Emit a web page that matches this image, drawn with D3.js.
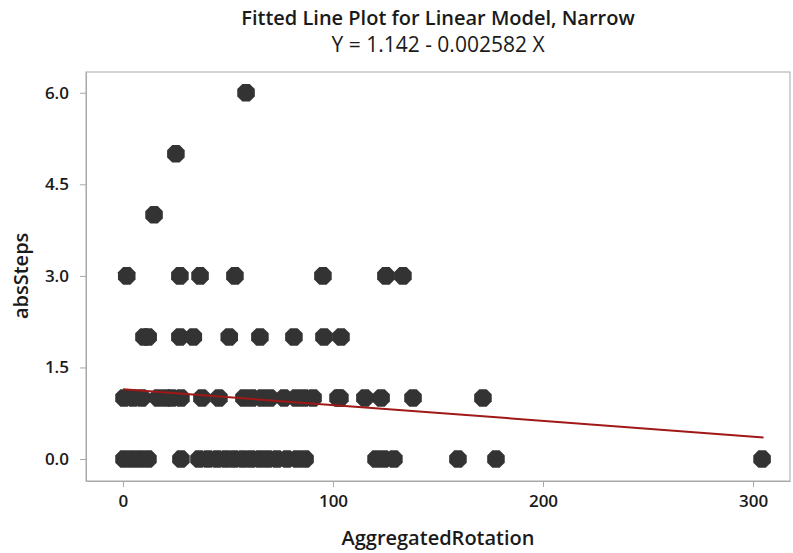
<!DOCTYPE html>
<html>
<head>
<meta charset="utf-8">
<script src="https://cdn.jsdelivr.net/npm/d3@7"></script>
<style>
  body { margin: 0; background: #fff; }
  text { font-family: "Open Sans", "Noto Sans", sans-serif; fill: #1a1a1a; }
</style>
</head>
<body>
<div id="chart"></div>
<script>
// observed points, grouped by absSteps level
var rot0 = [0.5, 4.3, 8.1, 11.9, 27.6, 36.2, 40.5, 44.8, 49, 52.9, 57.1, 61, 65.2, 69, 73.3, 78.1, 82.9, 86.7, 120.5, 124.3, 129, 159.5, 177.6, 304.3];
var rot1 = [0.5, 4.8, 9, 16.7, 20.5, 23.3, 27.6, 37.6, 45.7, 57.6, 61.4, 66.2, 70, 76.7, 82.4, 86.2, 90.5, 102.4, 103.3, 115.2, 122.9, 138.1, 171.4];
var rot2 = [10, 12, 27.1, 33.5, 50.6, 65.2, 81.4, 95.7, 103.8];
var rot3 = [1.8, 27.1, 36.7, 53.3, 95.2, 125.2, 133.3];
var rot4 = [14.8];
var rot5 = [25.2];
var rot6 = [58.6];

var xTicks = [0, 100, 200, 300];
var yTicks = [0, 1.5, 3, 4.5, 6];

var intercept = 1.142, slope = -0.002582;
var fitRange = [0, 305];

var groups = [[0, rot0], [1, rot1], [2, rot2], [3, rot3], [4, rot4], [5, rot5], [6, rot6]];
var data = [];
groups.forEach(function (g) {
    g[1].forEach(function (r) { data.push({ rot: r, steps: g[0] }); });
});

var W = 793, H = 553;
var margin = { top: 72, right: 3, bottom: 72, left: 86 };
var width = W - margin.left - margin.right,
    height = H - margin.top - margin.bottom;

var x = d3.scaleLinear().domain([-17.6, 317.6]).range([0, width]);
var y = d3.scaleLinear().domain([-0.36, 6.34]).range([height, 0]);

var svg = d3.select("#chart").append("svg")
    .attr("width", W)
    .attr("height", H);

svg.append("text")
    .attr("x", margin.left + width / 2)
    .attr("y", 25)
    .attr("text-anchor", "middle")
    .style("font-size", "20px")
    .style("font-weight", "600")
    .text("Fitted Line Plot for Linear Model, Narrow");

svg.append("text")
    .attr("x", margin.left + width / 2)
    .attr("y", 52)
    .attr("text-anchor", "middle")
    .style("font-size", "21px")
    .text("Y = 1.142 - 0.002582 X");

var g = svg.append("g")
    .attr("transform", "translate(" + margin.left + "," + margin.top + ")");

// frame
g.append("rect")
    .attr("width", width)
    .attr("height", height)
    .style("fill", "none")
    .style("stroke", "#a8a8a8");

// axes
var xAxis = g.append("g")
    .attr("transform", "translate(0," + height + ")")
    .call(d3.axisBottom(x).tickValues(xTicks).tickSize(6).tickSizeOuter(0).tickPadding(8));
var yAxis = g.append("g")
    .call(d3.axisLeft(y).tickValues(yTicks).tickFormat(d3.format(".1f")).tickSize(6).tickSizeOuter(0).tickPadding(11));

[xAxis, yAxis].forEach(function (a) {
    a.select(".domain").style("stroke", "#a8a8a8");
    a.selectAll(".tick line").style("stroke", "#a8a8a8");
    a.selectAll(".tick text")
        .style("font-family", "'Open Sans', sans-serif")
        .style("font-size", "17px")
        .style("font-weight", "600")
        .style("fill", "#1a1a1a");
});

svg.append("text")
    .attr("x", margin.left + width / 2)
    .attr("y", 545)
    .attr("text-anchor", "middle")
    .style("font-size", "20px")
    .style("font-weight", "600")
    .text("AggregatedRotation");

svg.append("text")
    .attr("transform", "translate(28," + (margin.top + y(3)) + ") rotate(-90)")
    .attr("text-anchor", "middle")
    .style("font-size", "20px")
    .style("font-weight", "600")
    .text("absSteps");

// octagon marker
var octagon = {
    draw: function (ctx, size) {
        var r = Math.sqrt(size / (2 * Math.SQRT2));
        for (var i = 0; i < 8; i++) {
            var a = Math.PI / 8 + i * Math.PI / 4;
            if (i === 0) ctx.moveTo(r * Math.cos(a), r * Math.sin(a));
            else ctx.lineTo(r * Math.cos(a), r * Math.sin(a));
        }
        ctx.closePath();
    }
};

g.selectAll("path.pt")
    .data(data)
    .enter().append("path")
    .attr("class", "pt")
    .attr("d", d3.symbol().type(octagon).size(2 * Math.SQRT2 * 9.5 * 9.5))
    .attr("transform", function (d) { return "translate(" + x(d.rot) + "," + y(d.steps) + ")"; })
    .style("fill", "#333333");

// fitted line
var fitLine = d3.line()
    .x(function (d) { return x(d); })
    .y(function (d) { return y(intercept + slope * d); });

g.append("path")
    .datum(fitRange)
    .attr("d", fitLine)
    .style("fill", "none")
    .style("stroke", "#a01818")
    .style("stroke-width", 2);
</script>
</body>
</html>
